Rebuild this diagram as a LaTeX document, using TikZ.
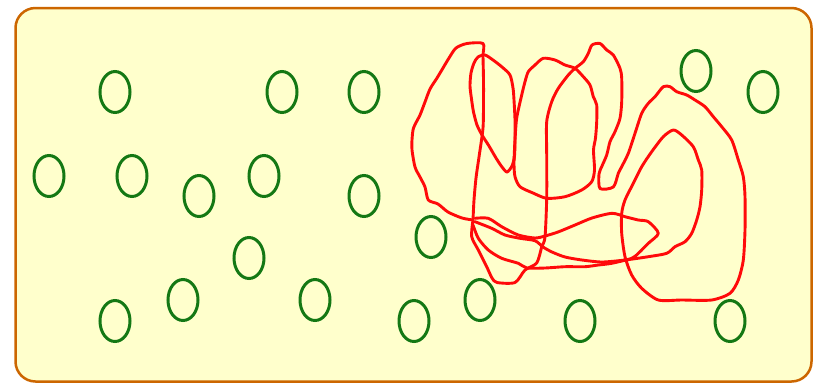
\documentclass[tikz,border=0pt]{standalone}
\usepackage{tikz}
\usetikzlibrary{shapes.geometric}

\definecolor{paper}{RGB}{255,255,204}
\definecolor{rim}{RGB}{204,102,0}
\definecolor{ringgreen}{RGB}{20,120,20}
\definecolor{inkred}{RGB}{255,10,10}

\begin{document}
\begin{tikzpicture}[
    x=1pt, y=-1pt,
    frame/.style={draw=rim, fill=paper, line width=2.5pt, rounded corners=20pt},
    ring/.style={draw=ringgreen, ellipse, line width=3pt, minimum width=30pt, minimum height=41pt, inner sep=0pt},
    scribble/.style={draw=inkred, line width=2.9pt, line join=round, line cap=round}
]
\useasboundingbox (0,0) rectangle (813,384);

% Frame
\draw[frame] (15.5,8) rectangle (811.5,381.5);

% Rings
\node[ring] (c1) at (115,92) {};
\node[ring] (c2) at (282,92) {};
\node[ring] (c3) at (364,92) {};
\node[ring] (c4) at (696,71) {};
\node[ring] (c5) at (763,92) {};
\node[ring] (c6) at (49,176) {};
\node[ring] (c7) at (132,176) {};
\node[ring] (c8) at (199,196) {};
\node[ring] (c9) at (264,176) {};
\node[ring] (c10) at (364,196) {};
\node[ring] (c11) at (431,237) {};
\node[ring] (c12) at (249,258) {};
\node[ring] (c13) at (183,300) {};
\node[ring] (c14) at (315,300) {};
\node[ring] (c15) at (115,321) {};
\node[ring] (c16) at (414,321) {};
\node[ring] (c17) at (480,300) {};
\node[ring] (c18) at (580,321) {};
\node[ring] (c19) at (730,321) {};

% Scribble: left loop and its stem
\draw[scribble] plot[smooth, tension=0.45] coordinates {
  (473,220) (462,218) (448,212) (438,204) (428.3,200) (425,187) (420,177) (415,167)
  (412,150) (412,140) (413.5,128) (420,115) (425,102) (430,89) (437,78) (443,68)
  (449,58) (456,48) (467,43.5) (483,43.5) (483,56) (483.5,80) (483.5,100) (483,128)
  (479,157) (476,178) (474,200) (473,220)};

% Scribble: hook, stem and the two right loops
\draw[scribble] plot[smooth, tension=0.45] coordinates {
  (473,220) (471.7,236.7) (478.3,250) (486.7,266.7) (492,278) (497,282.5) (515,282.5)
  (525,270) (536.7,263) (541.7,247) (545,237) (546.7,198) (546.7,155) (546.7,121.7)
  (551.7,101.7) (558.3,88.3) (568.3,75) (575,68.3) (583.3,61.7) (588.3,53.3) (592,45)
  (600,43.5) (606.7,50) (613.3,55) (620,68.3) (621.7,78.3) (621.7,101.7) (620,118.3)
  (615,131.7) (610,141.7) (606.7,155) (602,166) (599,174) (600,188.5) (613.3,187)
  (618.3,173.3) (621.7,166.7) (628.3,153.3) (635,133.3) (641.7,113.3) (648.3,103.3)
  (655,96.7) (663.3,86.7) (670,86.7) (676.7,91.7) (686.7,95) (695,100) (705,106.7)
  (713.3,116.7) (721.7,126.7) (731.7,140) (738.3,160) (743.3,176.7) (745,196.7)
  (745,230) (743.3,260) (738.3,280) (730,293.3) (711.7,300) (681.7,300) (658.3,300)
  (641.7,288.3) (631.7,275) (625,256.7) (621.7,233.3) (621.7,213.3) (625,200)
  (633.3,183.3) (641.7,166.7) (651.7,151.7) (663.3,136.7) (673.3,130) (681.7,135)
  (693.3,146.7) (698.3,160) (701.7,170) (701.7,190) (700,206.7) (696.7,220)
  (691.7,233.3) (685,241.7) (675,246.7) (666.7,253.3) (648.3,256.7) (625,260)
  (602,262) (582,260) (565,257) (552,252) (543,247) (535,240.7) (520,238.3)
  (505,235) (491.7,228.3) (475,221.7)};

% Scribble: narrow loop
\draw[scribble] plot[smooth cycle, tension=0.45] coordinates {
  (515,140) (515,120) (514,100) (513,88) (510,75) (502,67) (493,60) (485,55)
  (478,57) (474,63) (471,73) (470,86) (471.5,99) (473.5,112) (477,125) (482,135)
  (489,146) (496,158) (502,167) (507,172) (512,166) (514.5,156)};

% Scribble: middle loop
\draw[scribble] plot[smooth cycle, tension=0.45] coordinates {
  (515,140) (516.7,118) (521.7,95) (525,81.7) (528.3,71.7) (535,65) (543.3,58.3)
  (555,60) (565,65) (575,68.3) (583.3,76.7) (590,85) (593.3,96.7) (596.7,105)
  (596.7,121.7) (595.5,138) (593.5,150) (594.5,170) (591.7,181.7) (581.7,190) (565,196.7)
  (546.7,198.3) (533,193) (520,186.7) (515,176.7) (514,163)};

% Scribble: lens and bottom strokes
\draw[scribble] plot[smooth, tension=0.45] coordinates {
  (475,218.3) (488.3,218.3) (501.7,226.7) (518.3,235) (535,238) (545,236) (558,232)
  (575,225) (592,218) (612,213.3) (625,216.7) (638.3,220) (648.3,221.7) (658.3,233.3)
  (648.3,243.3) (638.3,253.3) (631.7,258.3) (611.7,263.3) (598.3,265) (585,266.7)
  (565,266.7) (545,268) (527,268) (518.3,263.3) (501.7,258.3) (488.3,250)
  (478.3,238.3) (473,225)};

\end{tikzpicture}
\end{document}
